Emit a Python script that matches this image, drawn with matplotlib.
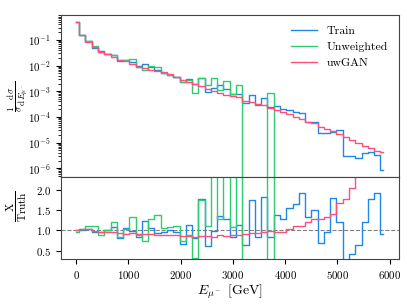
import numpy as np
import matplotlib
matplotlib.use('Agg')
import matplotlib.pyplot as plt

# Settings for a LaTeX-like look
plt.rcParams['font.family'] = 'serif'
plt.rcParams['font.serif'] = ['cmr10']
plt.rcParams['mathtext.fontset'] = 'cm'
plt.rcParams['axes.formatter.use_mathtext'] = True
plt.rcParams['font.size'] = 7.8

# Energy points (GeV)
energy = np.arange(0, 5881, 120)

# Normalised distributions
train = [0.49, 0.16, 0.088, 0.05, 0.036, 0.028, 0.026, 0.0148, 0.016, 0.0143,
         0.0095, 0.0113, 0.0087, 0.0068, 0.0053, 0.0043, 0.0037, 0.0022, 0.003, 0.0019,
         0.0034, 0.00094, 0.0014, 0.0017, 0.0012, 0.00075, 0.00079, 0.00036, 0.00074, 0.00029,
         0.00054, 0.00024, 0.00027, 0.0002, 0.00018, 0.00016, 0.00014, 6.4e-5, 6.4e-5, 2.3e-5,
         2.4e-5, 2.6e-5, 3.2e-5, 3.1e-6, 2.9e-6, 2.6e-6, 3.9e-6, 4.4e-6, 3.3e-6, 8.3e-7]
unweighted = [0.48, 0.157, 0.09, 0.058, 0.033, 0.028, 0.027, 0.016, 0.016, 0.0177,
              0.0085, 0.0068, 0.0097, 0.0092, 0.005, 0.0044, 0.0037, 0.0024, 0.0028, 0.00089,
              0.0034, 0.0017, 0.0034, 0.0011, 0.0025, 0.00077, 0.0017, 0, 0, 0,
              0, 0.00083, 0, 0, 0, 0, 0, 0, 0, 0,
              0, 0, 0, 0, 0, 0, 0, 0, 0, 0]
uwgan = [0.49, 0.157, 0.086, 0.052, 0.035, 0.0276, 0.0218, 0.0166, 0.015, 0.012,
         0.0092, 0.0079, 0.007, 0.0062, 0.0055, 0.0048, 0.0037, 0.0028, 0.0023, 0.0019,
         0.0016, 0.0012, 0.00105, 0.00089, 0.00072, 0.00065, 0.00058, 0.00043, 0.00037, 0.00032,
         0.00029, 0.00022, 0.00019, 0.00015, 0.00013, 0.0001, 8.1e-5, 6.6e-5, 5.6e-5, 4.2e-5,
         3.3e-5, 2.9e-5, 2.1e-5, 1.7e-5, 1.3e-5, 1.0e-5, 7.6e-6, 6.3e-6, 4.9e-6, 4.3e-6]

# Ratios to truth
ratio_train = [1.0, 1.02, 1.03, 0.97, 0.97, 1.0, 1.08, 0.81, 1.05, 0.99,
               0.83, 1.22, 1.06, 0.93, 0.97, 1.0, 0.97, 0.67, 1.14, 0.82,
               1.78, 0.62, 0.98, 1.35, 1.29, 0.85, 1.14, 0.64, 1.75, 0.83,
               1.83, 0.83, 1.37, 1.27, 1.56, 1.66, 1.92, 1.33, 1.5, 0.68,
               0.95, 1.79, 1.2, 0.28, 0.42, 0.64, 1.2, 1.77, 1.91, 0.92]
ratio_unweighted = [0.95, 1.04, 1.12, 1.12, 0.89, 1.0, 1.2, 0.85, 1.04, 1.32,
                    0.88, 0.74, 1.29, 1.37, 1.06, 1.09, 1.12, 0.75, 0.89, 0.33,
                    1.75, 1.12, 3.2, 1.27, 2.9, 1.08, 2.9, 0, 0, 0,
                    0, 3.8, 0, 0, 0, 0, 0, 0, 0, 0,
                    0, 0, 0, 0, 0, 0, 0, 0, 0, 0]
ratio_uwgan = [1.02, 1.04, 1.03, 0.98, 0.96, 0.95, 0.96, 0.93, 0.92, 0.93,
               0.92, 0.9, 0.9, 0.88, 0.89, 0.88, 0.89, 0.86, 0.87, 0.84,
               0.86, 0.87, 0.84, 0.88, 0.86, 0.89, 0.88, 0.92, 0.94, 0.94,
               0.97, 0.98, 0.97, 0.95, 1.03, 1.1, 1.1, 1.2, 1.27, 1.27,
               1.33, 1.41, 1.68, 1.77, 2.04, 2.6, 3.0, 3.5, 4.0, 4.5]

c_train = '#1e88e5'
c_unw = '#2ecc71'
c_gan = '#ff4f7b'

fig = plt.figure(figsize=(4.07, 3.05), dpi=100)
ax = fig.add_axes([0.149, 0.419, 0.831, 0.532])
rax = fig.add_axes([0.149, 0.150, 0.831, 0.269], sharex=ax)

# Upper panel: distributions
ax.step(energy, train, where='mid', color=c_train, lw=1, label='Train')
ax.step(energy, unweighted, where='mid', color=c_unw, lw=1, label='Unweighted')
ax.step(energy, uwgan, where='mid', color=c_gan, lw=1, label='uwGAN')
ax.set_yscale('log')
ax.set_ylim(4.5e-7, 0.94)
ax.set_ylabel(r'$\frac{1}{\sigma}\frac{\mathrm{d}\sigma}{\mathrm{d}E_{\mu^-}}$', fontsize=9.5)
ax.yaxis.set_label_coords(-0.09, 0.5)
ax.tick_params(labelbottom=False, bottom=False)
ax.legend(loc='upper right', frameon=False, fontsize=8.5, handlelength=2.2)

# Lower panel: ratios
rax.axhline(1.0, color='gray', ls='--', lw=0.8)
rax.step(energy, ratio_train, where='mid', color=c_train, lw=1)
rax.step(energy, ratio_unweighted, where='mid', color=c_unw, lw=1)
rax.step(energy, ratio_uwgan, where='mid', color=c_gan, lw=1)
rax.set_ylim(0.29, 2.31)
rax.set_yticks([0.5, 1.0, 1.5, 2.0])
rax.set_ylabel(r'$\frac{\mathrm{X}}{\mathrm{Truth}}$', fontsize=11.5)
rax.yaxis.set_label_coords(-0.095, 0.64)
rax.set_xlabel(r'$E_{\mu^-}$ [GeV]', fontsize=10, labelpad=1)

for a in (ax, rax):
    for s in a.spines.values():
        s.set_color('#444444')

fig.savefig('out.png', dpi=100)
